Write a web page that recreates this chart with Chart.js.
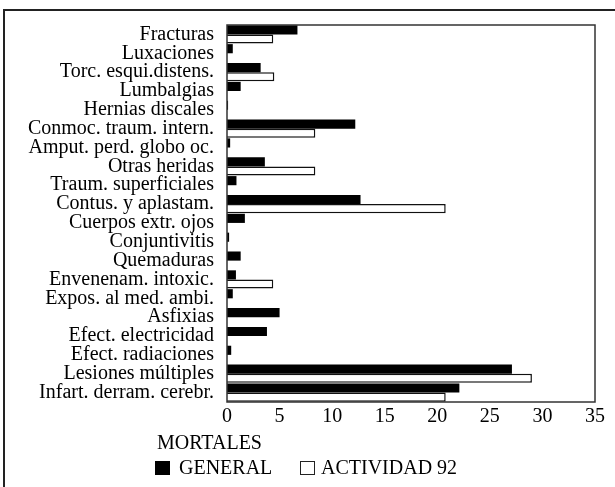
<!DOCTYPE html>
<html>
<head>
<meta charset="utf-8">
<script src="https://cdn.jsdelivr.net/npm/chart.js@4"></script>
<style>
  body { margin: 0; background: #fff; }
  #wrap { position: relative; width: 615px; height: 487px; overflow: hidden; }
  #frame { position: absolute; left: 3px; top: 9px; right: -5px; bottom: -5px;
           border-top: 2px solid #222; border-left: 2px solid #222; }
  .txt { position: absolute; font-family: "Liberation Serif", serif; font-size: 20px; color: #000; white-space: nowrap; }
  .box { position: absolute; width: 15px; height: 14px; box-sizing: border-box; }
</style>
</head>
<body>
<div id="wrap">
  <div id="frame"></div>
  <canvas id="chart"></canvas>
  <div class="txt" style="left:157px; top:431px;">MORTALES</div>
  <div class="box" style="left:155px; top:461px; background:#000;"></div>
  <div class="txt" style="left:179px; top:456px;">GENERAL</div>
  <div class="box" style="left:300px; top:461px; border:1.5px solid #222; background:#fff;"></div>
  <div class="txt" style="left:321px; top:456px;">ACTIVIDAD 92</div>
</div>
<script>
'use strict'

// Data
var categories = ['Fracturas', 'Luxaciones', 'Torc. esqui.distens.', 'Lumbalgias', 'Hernias discales',
  'Conmoc. traum. intern.', 'Amput. perd. globo oc.', 'Otras heridas', 'Traum. superficiales',
  'Contus. y aplastam.', 'Cuerpos extr. ojos', 'Conjuntivitis', 'Quemaduras', 'Envenenam. intoxic.',
  'Expos. al med. ambi.', 'Asfixias', 'Efect. electricidad', 'Efect. radiaciones',
  'Lesiones múltiples', 'Infart. derram. cerebr.'];
var general = [6.7, 0.55, 3.2, 1.3, 0.1, 12.2, 0.3, 3.6, 0.9, 12.7, 1.7, 0.2, 1.3, 0.85, 0.55, 5.0, 3.8, 0.4, 27.1, 22.1];
var actividad92 = [4.4, 0, 4.5, 0, 0, 8.4, 0, 8.4, 0, 20.8, 0, 0, 0, 4.4, 0, 0, 0, 0, 29.0, 20.8];
var xTicks = [0, 5, 10, 15, 20, 25, 30, 35];

//----------Box round the plot area----------//
var plotBox = {
  id: 'plotBox',
  afterDatasetsDraw: function(chart) {
    var a = chart.chartArea;
    var ctx = chart.ctx;
    ctx.save();
    ctx.strokeStyle = '#333';
    ctx.lineWidth = 1.5;
    ctx.strokeRect(a.left, a.top, a.right - a.left, a.bottom - a.top);
    ctx.restore();
  }
};

var ctx = document.getElementById('chart').getContext('2d');
var chart = new Chart(ctx, {
  type: 'bar',
  data: {
    labels: categories,
    datasets: [{
      label: 'GENERAL',
      data: general,
      backgroundColor: '#000',
      borderWidth: 0
    }, {
      label: 'ACTIVIDAD 92',
      data: actividad92,
      backgroundColor: '#fff',
      borderColor: '#111',
      borderWidth: 1.5
    }]
  },
  options: {
    indexAxis: 'y',
    responsive: true,
    maintainAspectRatio: false,
    animation: false,
    datasets: { bar: { barPercentage: 1.0, categoryPercentage: 0.97 } },
    layout: { padding: { left: 0, top: 25, right: 20, bottom: 60 } },
    plugins: { legend: { display: false }, tooltip: { enabled: false } },
    scales: {
      x: {
        min: 0,
        max: 35,
        afterBuildTicks: function(s) { s.ticks = xTicks.map(function(v) { return { value: v }; }); },
        afterFit: function(s) { s.height = 25; },
        grid: { display: false, drawTicks: false },
        border: { display: false },
        ticks: { color: '#000', padding: 3, font: { family: 'Liberation Serif', size: 20 } }
      },
      y: {
        afterFit: function(s) { s.width = 227; },
        grid: { display: false, drawTicks: false },
        border: { display: false },
        ticks: { color: '#000', padding: 13, autoSkip: false, font: { family: 'Liberation Serif', size: 20 } }
      }
    }
  },
  plugins: [plotBox]
});
</script>
</body>
</html>
